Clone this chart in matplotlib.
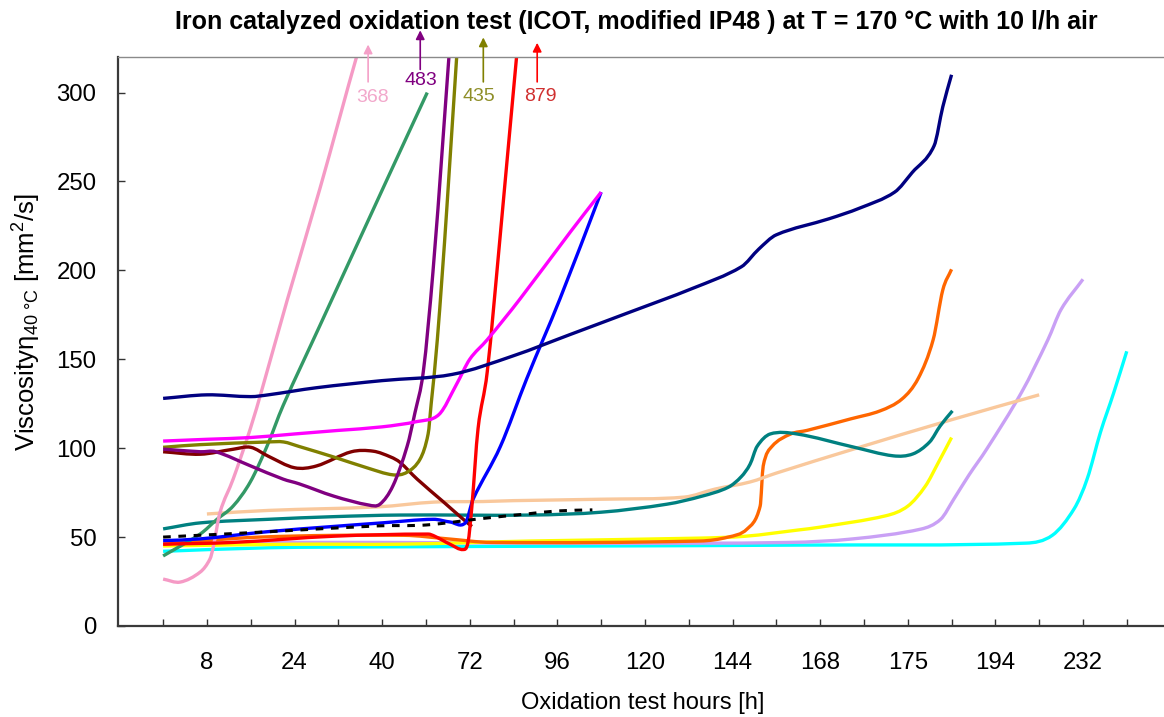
import matplotlib
matplotlib.use("Agg")
import matplotlib.pyplot as plt
from matplotlib.path import Path
from matplotlib.patches import PathPatch

plt.rcParams['font.family'] = ['Liberation Sans', 'DejaVu Sans']
plt.rcParams['mathtext.fontset'] = 'custom'
plt.rcParams['mathtext.rm'] = 'Liberation Sans'
plt.rcParams['mathtext.it'] = 'Liberation Sans:italic'

# Category axis: ticks at every position, hour labels on every second one
tick_positions = list(range(23))
hour_labels = ["8", "24", "40", "72", "96", "120", "144", "168", "175", "194", "232"]
label_positions = [1, 3, 5, 7, 9, 11, 13, 15, 17, 19, 21]

# Viscosity curves (x in axis position units, y in mm²/s)
cyan_x = [0, 2.4, 5, 10, 14.5, 19.7, 20.3, 20.8, 21.1, 21.4, 21.7, 22.0]
cyan_y = [42, 44, 44.5, 45, 45.5, 46.6, 51, 66, 83, 109, 131, 154.5]

lavender_x = [0, 5, 10, 14.3, 15.75, 17.3, 17.75, 18.05, 18.4, 18.8, 19.6, 20.2, 20.5, 21.0]
lavender_y = [47, 47, 46.5, 47, 49, 54.5, 60, 71.3, 85, 99.4, 131.5, 161, 178, 195]

yellow_x = [0, 3, 5.4, 8.4, 12.2, 13.3, 14.5, 15.0, 16.5, 17.0, 17.4, 17.7, 18.0]
yellow_y = [45, 46, 46, 47.8, 49.4, 50.5, 54, 55.6, 62, 67.4, 78.6, 92, 106]

peach_x = [1, 2.4, 4.9, 6.2, 7.3, 8.0, 10.0, 11.9, 12.6, 13.4, 14.0, 15.75, 18.0, 20.0]
peach_y = [63, 65, 67, 69.7, 70, 70.5, 71.3, 72.5, 77, 81, 86, 99.4, 116, 130]

orange_x = [0, 2.2, 5.5, 6.5, 7.5, 12.26, 12.9, 13.33, 13.63, 13.7, 13.9, 14.33, 14.7,
            15.7, 16.37, 16.87, 17.24, 17.58, 17.8, 18.0]
orange_y = [46, 50, 51, 49, 47, 47.8, 50, 54.5, 67.4, 90, 101, 108, 110,
            116.5, 121, 127.7, 139.3, 161, 189, 200.6]

teal_x = [0, 0.85, 2.4, 3.9, 5.4, 8.4, 10.0, 11.5, 12.3, 12.9, 13.2, 13.4, 13.56, 13.86,
          14.47, 15.75, 16.67, 17.12, 17.5, 17.74, 18.02]
teal_y = [54.6, 58, 60, 61.5, 62.4, 62.4, 64, 68.5, 73, 78, 84, 91, 101, 108,
          108, 100.7, 95.7, 96.8, 103.5, 112.5, 121]

black_x = [0, 2.4, 4.9, 6.0, 7.3, 8.3, 9.0, 9.8]
black_y = [50, 53, 56.3, 56.8, 60.5, 63, 64.7, 65.3]

green_x = [0, 0.85, 1.23, 1.6, 1.99, 2.37, 2.74, 3.58, 5.11, 6.03]
green_y = [39.4, 51.8, 60, 67.5, 81, 101, 124, 169, 251, 300]

pink_x = [0, 0.39, 0.85, 1.07, 1.15, 1.3, 1.6, 1.99, 2.28, 2.83, 3.58, 4.45, 5.0]
pink_y = [26.4, 24.7, 30.4, 37.7, 45, 64, 82.7, 110.9, 135, 183, 246, 323, 368]

maroon_x = [0, 0.85, 1.6, 2.0, 2.4, 3.0, 3.5, 4.3, 4.8, 5.2, 5.41, 5.8, 6.39, 6.9, 7.05]
maroon_y = [98, 96.6, 99.4, 100.5, 95.5, 89, 90, 98, 98.3, 95, 92, 82.6, 70, 59, 56]

olive_x = [0, 0.85, 2.4, 2.75, 3.1, 3.9, 4.65, 5.25, 5.57, 5.87, 6.05, 6.12, 6.26, 6.48, 7.0]
olive_y = [100.5, 102, 103.5, 103.5, 101, 95, 89, 85, 86.5, 94, 108, 125, 161, 236, 435]

purple_x = [0, 0.85, 1.2, 2.0, 2.74, 3.1, 3.9, 4.7, 4.95, 5.25, 5.57, 5.75, 5.94, 6.16, 6.39, 7.0]
purple_y = [99.5, 98, 98, 90, 82.6, 80, 73, 68, 68.5, 79, 101, 120, 143, 199, 274, 483]

red_x = [0, 1.6, 3.9, 6.05, 6.2, 6.55, 6.85, 6.96, 7.05, 7.19, 7.4, 7.69, 8.08, 10.2]
red_y = [46, 47, 50.5, 51.7, 50.5, 46, 43, 47, 67.5, 111, 143, 218, 323, 879]

blue_x = [0, 0.85, 2.37, 3.9, 5.0, 6.17, 6.55, 6.9, 7.08, 7.7, 8.3, 9.06, 10.0]
blue_y = [48, 49, 53, 56, 58, 60, 58.5, 58, 71.5, 101, 139, 184, 244]

magenta_x = [0, 1, 2, 3, 4, 5, 5.8, 6.3, 6.7, 7.0, 7.4, 8.15, 9.3, 10.0]
magenta_y = [104, 105, 106, 108, 110, 112, 115, 119, 136, 150, 161, 184, 221.7, 244]

navy_x = [0, 1, 2, 2.4, 3.5, 5, 6.6, 8, 9.3, 10.6, 12.1, 13.2, 13.6, 14.0, 15.2, 15.9,
          16.7, 17.1, 17.6, 17.8, 18.0]
navy_y = [128, 130, 129, 130, 134, 138, 141.5, 152, 164, 176, 190, 202, 212, 220, 229,
          235, 244, 255, 270, 292, 310]

# Off-scale end values, shown as arrows above the plot
note_values = [368, 483, 435, 879]
note_x = [4.68, 5.87, 7.31, 8.54]
note_tip = [327, 335, 331, 328]
note_tail = [306, 313, 306, 306]
note_text_x = [4.77, 5.89, 7.21, 8.61]
note_text_y = [297.5, 307, 298, 298]
note_arrow_colors = ["#F4A0C8", "#800080", "#808000", "#FF0000"]
note_text_colors = ["#F2A8CB", "#800080", "#8E8E28", "#D03030"]


def smoothed_path(xs, ys):
    """Cubic Bezier path through the points (smoothed-line style)."""
    n = len(xs)
    slopes = []
    for i in range(n):
        a = max(i - 1, 0)
        b = min(i + 1, n - 1)
        slopes.append((ys[b] - ys[a]) / (xs[b] - xs[a]))
    verts = [(xs[0], ys[0])]
    codes = [Path.MOVETO]
    for i in range(n - 1):
        h = xs[i + 1] - xs[i]
        verts += [(xs[i] + h / 3, ys[i] + slopes[i] * h / 3),
                  (xs[i + 1] - h / 3, ys[i + 1] - slopes[i + 1] * h / 3),
                  (xs[i + 1], ys[i + 1])]
        codes += [Path.CURVE4] * 3
    return Path(verts, codes)


fig = plt.figure(figsize=(11.64, 7.17), dpi=100)
ax = fig.add_axes([118 / 1164, 91 / 717, 1046 / 1164, 569 / 717])

lw = 2.4
series = [
    (cyan_x, cyan_y, "#00FFFF"),
    (lavender_x, lavender_y, "#C9A0F5"),
    (yellow_x, yellow_y, "#FFFF00"),
    (orange_x, orange_y, "#FF6600"),
    (peach_x, peach_y, "#F9C89C"),
    (teal_x, teal_y, "#008080"),
    (green_x, green_y, "#339966"),
    (pink_x, pink_y, "#F59AC5"),
    (maroon_x, maroon_y, "#800000"),
    (olive_x, olive_y, "#808000"),
    (purple_x, purple_y, "#800080"),
    (blue_x, blue_y, "#0000FF"),
    (red_x, red_y, "#FF0000"),
    (magenta_x, magenta_y, "#FF00FF"),
    (navy_x, navy_y, "#000080"),
]
for xs, ys, c in series:
    ax.add_patch(PathPatch(smoothed_path(xs, ys), fill=False, edgecolor=c, lw=lw,
                           joinstyle="round", capstyle="butt"))

ax.add_patch(PathPatch(smoothed_path(black_x, black_y), fill=False, edgecolor="black",
                       lw=2.2, linestyle=(0, (2.5, 2.5)), capstyle="butt"))

for v, x, tip, tail, tx, ty, ac, tc in zip(note_values, note_x, note_tip, note_tail,
                                           note_text_x, note_text_y,
                                           note_arrow_colors, note_text_colors):
    ax.annotate("", xy=(x, tip), xytext=(x, tail), annotation_clip=False,
                arrowprops=dict(arrowstyle="-|>", color=ac, lw=1.2,
                                mutation_scale=13, shrinkA=0, shrinkB=0))
    ax.text(tx, ty, str(v), color=tc, fontsize=14, ha="center", va="center",
            clip_on=False)

ax.set_xlim(-1.03, 22.85)
ax.set_ylim(0, 320)
ax.set_xticks(tick_positions)
lbl = [""] * len(tick_positions)
for p, t in zip(label_positions, hour_labels):
    lbl[p] = t
ax.set_xticklabels(lbl)
ax.set_yticks([0, 50, 100, 150, 200, 250, 300])

ax.tick_params(axis="both", direction="in", length=5, width=1, colors="#333333",
               labelcolor="black", labelsize=17.3)
ax.tick_params(axis="x", pad=18.5)
ax.tick_params(axis="y", pad=15.5)

ax.spines["right"].set_visible(False)
ax.spines["top"].set_color("#8a8a8a")
ax.spines["top"].set_linewidth(1.0)
for s in ("left", "bottom"):
    ax.spines[s].set_color("#3a3a3a")
    ax.spines[s].set_linewidth(1.6)

fig.text(27 / 1164, 1 - 322 / 717,
         "Viscosity$\\mathregular{η_{40\\ °C}}$ [mm$^{\\mathregular{2}}$/s]",
         rotation=90, ha="center", va="center", fontsize=18.5)

fig.text(643 / 1164, 1 - 703 / 717, "Oxidation test hours [h]", ha="center", va="center",
         fontsize=17)
fig.text(636 / 1164, 1 - 22 / 717,
         "Iron catalyzed oxidation test (ICOT, modified IP48 ) at T = 170 °C with 10 l/h air",
         ha="center", va="center", fontsize=18, fontweight="bold")

fig.savefig("out.png", dpi=100)
